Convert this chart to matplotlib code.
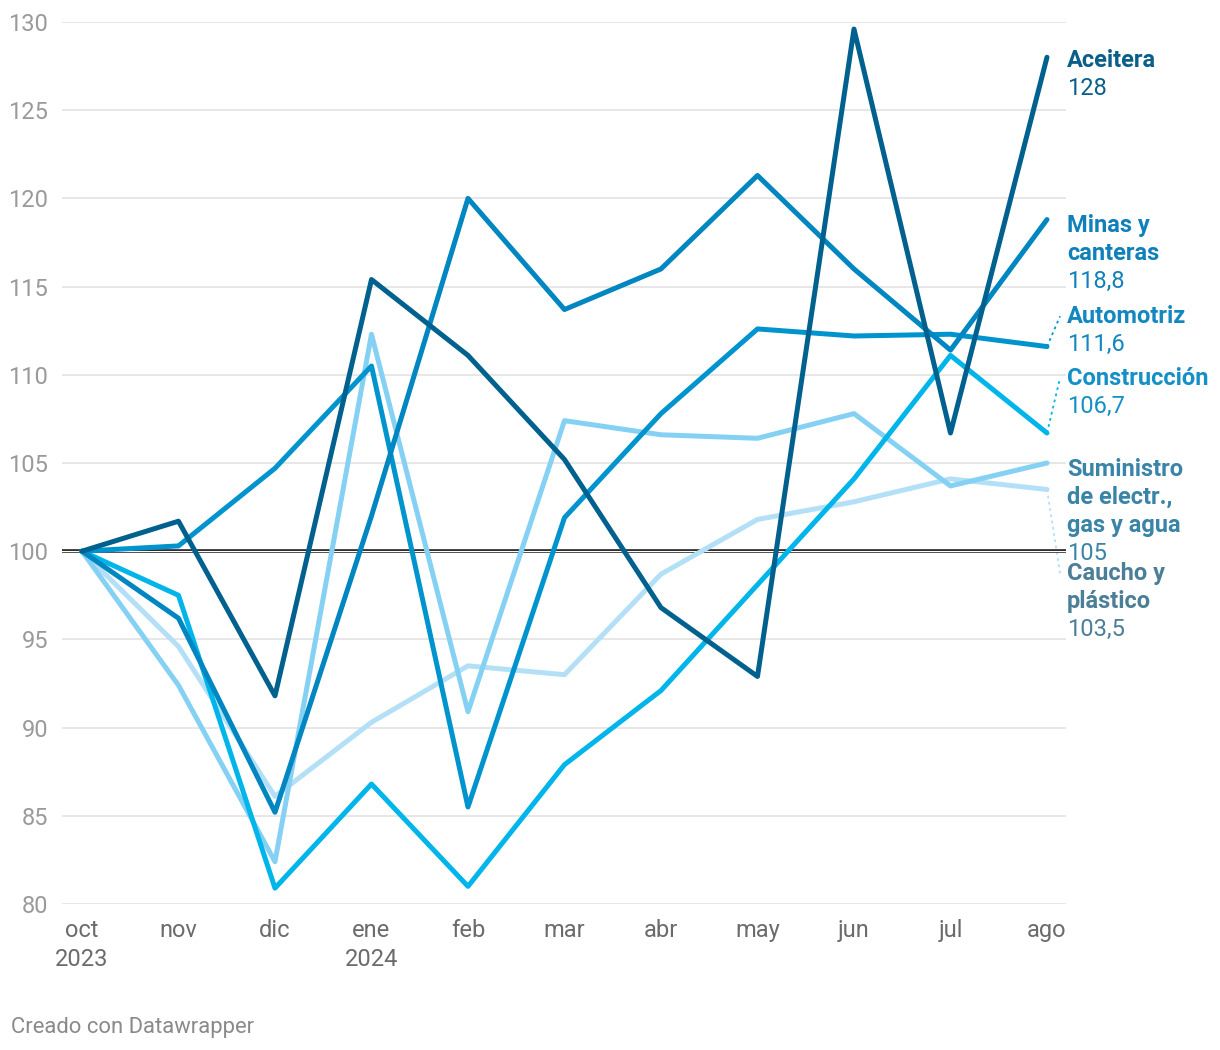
import matplotlib.pyplot as plt

plt.rcParams['font.family'] = ['Roboto', 'DejaVu Sans']

# Months (oct 2023 - ago 2024)
months = ['oct\n2023', 'nov', 'dic', 'ene\n2024', 'feb', 'mar', 'abr', 'may', 'jun', 'jul', 'ago']

# Index values (oct 2023 = 100)
aceitera = [100, 101.7, 91.8, 115.4, 111.1, 105.2, 96.8, 92.9, 129.6, 106.7, 128.0]
minas = [100, 96.2, 85.2, 102.0, 120.0, 113.7, 116.0, 121.3, 116.0, 111.4, 118.8]
automotriz = [100, 100.3, 104.7, 110.5, 85.5, 101.9, 107.8, 112.6, 112.2, 112.3, 111.6]
construccion = [100, 97.5, 80.9, 86.8, 81.0, 87.9, 92.1, 98.1, 104.1, 111.1, 106.7]
suministro = [100, 92.4, 82.4, 112.3, 90.9, 107.4, 106.6, 106.4, 107.8, 103.7, 105.0]
caucho = [100, 94.6, 86.1, 90.3, 93.5, 93.0, 98.7, 101.8, 102.8, 104.1, 103.5]

# name lines, last value text, line colour, label colour, label baseline (data y), connector
series = [
    (['Caucho y', 'plástico'], '103,5', caucho, '#b3e0f7', '#4b7f98', 98.35, True),
    (['Suministro', 'de electr.,', 'gas y agua'], '105', suministro, '#85d1f3', '#3a84a8', 104.28, False),
    (['Construcción'], '106,7', construccion, '#00b5ea', '#1590c6', 109.42, True),
    (['Automotriz'], '111,6', automotriz, '#0094cf', '#1287c0', 112.92, True),
    (['Minas y', 'canteras'], '118,8', minas, '#0086c0', '#1080bb', 118.11, False),
    (['Aceitera'], '128', aceitera, '#00618e', '#0a5f88', 127.43, False),
]

fig = plt.figure(figsize=(12.2, 10.5), dpi=100)
ax = fig.add_axes([62 / 1220, 1 - 904 / 1050, 1004 / 1220, 882 / 1050])

x = list(range(len(months)))
step = 1.587  # one text line in data units

for i, (name, last, vals, col, lcol, ytop, conn) in enumerate(series):
    ax.plot(x, vals, color=col, lw=3.6, solid_joinstyle='round', solid_capstyle='round',
            zorder=3 + i, clip_on=False)
    lx = x[-1] + 0.207
    for j, line in enumerate(name):
        ax.text(lx, ytop - j * step, line, color=lcol, fontsize=17, fontweight='bold',
                ha='left', va='baseline', clip_on=False)
    ax.text(lx, ytop - len(name) * step, last, color=lcol, fontsize=17,
            ha='left', va='baseline', clip_on=False)
    if conn:
        ax.plot([x[-1], x[-1] + 0.135], [vals[-1], ytop + 0.4], color=col, lw=1.3,
                ls=(0, (1.5, 2)), clip_on=False, zorder=2)

# reference line at 100 (double rule)
ax.axhline(100, color='#222222', lw=2.6, zorder=2)
ax.axhline(100, color='white', lw=0.8, zorder=2)

ax.set_xlim(-0.207, 10.197)
ax.set_ylim(80, 130)
ax.set_yticks(range(80, 131, 5))
ax.set_xticks(x)
ax.set_xticklabels(months, linespacing=1.3)
ax.grid(axis='y', color='#e5e5e5', lw=1.3, zorder=0)
ax.grid(axis='x', visible=False)
for s in ax.spines.values():
    s.set_visible(False)
ax.tick_params(axis='y', length=0, pad=10, labelsize=17, labelcolor='#9a9a9a')
ax.tick_params(axis='x', length=0, pad=11, labelsize=17, labelcolor='#6b6b6b')

fig.text(11 / 1220, 1 - 1033 / 1050, 'Creado con Datawrapper', fontsize=15.8,
         color='#8a8a8a', ha='left', va='baseline')

plt.savefig('out.png', dpi=100)
